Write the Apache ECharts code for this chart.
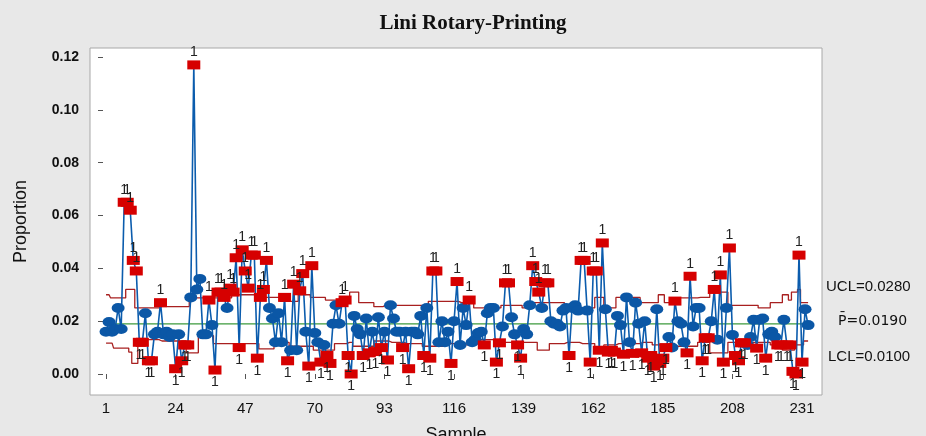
<!DOCTYPE html>
<html>
<head>
<meta charset="utf-8">
<script src="https://cdn.jsdelivr.net/npm/echarts@6/dist/echarts.min.js"></script>
<style>
html, body { margin: 0; padding: 0; background: #e8e8e8; }
#chart { width: 926px; height: 436px; }
</style>
</head>
<body>
<div id="chart"></div>
<script>
// proportion per sample, samples 1..233
var proportion = [
	0.016, 0.0197, 0.016, 0.017, 0.025, 0.017, 0.065, 0.065, 0.062, 0.043,
	0.039, 0.012, 0.012, 0.023, 0.005, 0.005, 0.015, 0.016, 0.027, 0.015,
	0.016, 0.014, 0.015, 0.002, 0.015, 0.005, 0.011, 0.011, 0.029, 0.117,
	0.032, 0.036, 0.015, 0.015, 0.028, 0.0185, 0.0015, 0.031, 0.031, 0.029,
	0.025, 0.0325, 0.031, 0.044, 0.010, 0.047, 0.039, 0.0325, 0.045, 0.045,
	0.006, 0.029, 0.032, 0.043, 0.025, 0.021, 0.012, 0.023, 0.012, 0.029,
	0.005, 0.009, 0.034, 0.009, 0.0315, 0.038, 0.016, 0.003, 0.041, 0.0155,
	0.012, 0.0045, 0.011, 0.007, 0.004, 0.019, 0.026, 0.019, 0.027, 0.028,
	0.007, 0.000, 0.022, 0.017, 0.015, 0.007, 0.021, 0.008, 0.016, 0.0085,
	0.0215, 0.010, 0.016, 0.0053, 0.026, 0.021, 0.016, 0.016, 0.010, 0.016,
	0.002, 0.016, 0.016, 0.015, 0.022, 0.007, 0.025, 0.006, 0.039, 0.039,
	0.012, 0.020, 0.012, 0.016, 0.004, 0.020, 0.035, 0.011, 0.025, 0.0185,
	0.028, 0.012, 0.013, 0.0155, 0.016, 0.011, 0.023, 0.025, 0.025, 0.0045,
	0.0118, 0.018, 0.0345, 0.0345, 0.0215, 0.015, 0.011, 0.006, 0.017, 0.015,
	0.026, 0.041, 0.035, 0.031, 0.025, 0.0345, 0.0345, 0.020, 0.019, 0.019,
	0.018, 0.024, 0.025, 0.007, 0.025, 0.026, 0.024, 0.043, 0.043, 0.024,
	0.0045, 0.039, 0.039, 0.009, 0.0496, 0.0245, 0.0083, 0.009, 0.0083, 0.022,
	0.0185, 0.0075, 0.029, 0.012, 0.0078, 0.027, 0.019, 0.008, 0.020, 0.006,
	0.007, 0.003, 0.0245, 0.004, 0.006, 0.010, 0.014, 0.010, 0.0276, 0.020,
	0.019, 0.012, 0.008, 0.037, 0.018, 0.025, 0.025, 0.005, 0.0137, 0.0137,
	0.020, 0.032, 0.013, 0.0375, 0.0045, 0.025, 0.0477, 0.0148, 0.007, 0.005,
	0.0118, 0.0118, 0.011, 0.014, 0.0205, 0.0098, 0.0205, 0.021, 0.006, 0.015,
	0.016, 0.014, 0.011, 0.011, 0.0205, 0.011, 0.011, 0.001, 0.000, 0.045,
	0.0045, 0.0245, 0.0185
];

// samples flagged by test 1 (drawn as red squares)
var flagged = [7, 8, 9, 10, 11, 12, 13, 15, 16, 19, 24, 26, 27, 28, 30, 35, 37, 38, 39, 40,
	42, 43, 44, 45, 46, 47, 48, 49, 50, 51, 52, 53, 54, 60, 61, 63, 65, 66, 68, 69,
	72, 74, 75, 79, 80, 81, 82, 86, 88, 90, 92, 94, 99, 101, 106, 108, 109, 110, 115, 117,
	121, 126, 130, 131, 133, 134, 137, 138, 142, 143, 144, 146, 147, 154, 158, 159, 161, 162, 163, 164,
	165, 167, 168, 169, 172, 175, 178, 180, 181, 182, 184, 185, 186, 189, 193, 194, 198, 199, 200, 202,
	204, 205, 207, 209, 210, 211, 212, 216, 219, 223, 224, 226, 227, 228, 229, 230, 231];

// control limits change with the sample size: [first sample, value]
var uclSteps = [[1, 0.030], [3, 0.0288], [8, 0.032], [11, 0.025], [19, 0.0255], [29, 0.0288],
	[43, 0.030], [53, 0.029], [59, 0.0275], [65, 0.030], [69, 0.029], [74, 0.028], [79, 0.027],
	[82, 0.031], [85, 0.027], [90, 0.0255], [93, 0.026], [108, 0.0275], [118, 0.027], [123, 0.025],
	[132, 0.026], [139, 0.025], [142, 0.027], [153, 0.026], [158, 0.025], [163, 0.029], [166, 0.025],
	[170, 0.029], [178, 0.027], [184, 0.030], [186, 0.027], [190, 0.0288], [197, 0.029], [201, 0.033],
	[204, 0.031], [207, 0.026], [217, 0.025], [221, 0.027], [225, 0.030], [227, 0.028], [228, 0.031],
	[230, 0.032], [231, 0.027]];
var lclSteps = [[1, 0.0117], [4, 0.0098], [9, 0.0083], [10, 0.004], [12, 0.013], [19, 0.0125],
	[28, 0.008], [32, 0.0145], [37, 0.0115], [52, 0.0095], [57, 0.012], [62, 0.0105], [70, 0.009],
	[77, 0.0115], [81, 0.012], [83, 0.0105], [90, 0.0125], [95, 0.012], [100, 0.0115], [106, 0.0105],
	[113, 0.0115], [118, 0.011], [123, 0.013], [132, 0.012], [144, 0.009], [148, 0.0115], [153, 0.012],
	[158, 0.0115], [163, 0.010], [166, 0.011], [170, 0.0115], [178, 0.012], [182, 0.011], [186, 0.0095],
	[190, 0.0105], [197, 0.012], [201, 0.008], [207, 0.012], [221, 0.011], [225, 0.009], [229, 0.011],
	[232, 0.0125]];

var centerLine = 0.019;
var xTicks = [1, 24, 47, 70, 93, 116, 139, 162, 185, 208, 231];
var yTicks = [0, 0.02, 0.04, 0.06, 0.08, 0.10, 0.12];
var limitLabels = ['UCL=0.0280', 'P\u0304=0.0190', 'LCL=0.0100'];

function expandSteps(steps, n){
	var out = [];
	var k = 0;
	for(var s=1; s<=n; s++){
		while(k+1 < steps.length && steps[k+1][0] <= s) k++;
		out.push([s, steps[k][1]]);
	}
	return out;
}

var linePts = [], okPts = [], badPts = [];
for(var i=0; i<proportion.length; i++){
	var s = i+1;
	linePts.push([s, proportion[i]]);
	if(flagged.indexOf(s) >= 0){
		badPts.push({
			value: [s, proportion[i]],
			label: { position: proportion[i] > centerLine ? 'top' : 'bottom' }
		});
	}else{
		okPts.push([s, proportion[i]]);
	}
}
var n = proportion.length;

var chart = echarts.init(document.getElementById('chart'));

var options = {
	backgroundColor: '#e8e8e8',
	animation: false,
	title: {
		text: 'Lini Rotary-Printing',
		left: 468,
		textAlign: 'center',
		top: 8,
		textStyle: { fontFamily: 'Liberation Serif', fontWeight: 'bold', fontSize: 21, color: '#111' }
	},
	grid: {
		left: 90, right: 104, top: 48, bottom: 41,
		containLabel: false, outerBoundsMode: 'none',
		show: true, backgroundColor: '#ffffff', borderColor: '#a8a8a8', borderWidth: 1
	},
	xAxis: {
		type: 'value',
		min: -4.3, max: 237.6,
		name: 'Sample', nameLocation: 'middle', nameGap: 31,
		nameTextStyle: { fontFamily: 'Liberation Sans', fontSize: 18, color: '#111' },
		axisLine: { show: false },
		axisTick: { show: true, customValues: xTicks, length: 5, lineStyle: { color: '#555' } },
		axisLabel: { customValues: xTicks, fontFamily: 'Liberation Sans', fontSize: 15, color: '#111', margin: 6 },
		splitLine: { show: false }
	},
	yAxis: {
		type: 'value',
		min: -0.00795, max: 0.1234,
		name: 'Proportion', nameLocation: 'middle', nameGap: 60, nameRotate: 90,
		nameTextStyle: { fontFamily: 'Liberation Sans', fontSize: 18, color: '#111' },
		axisLine: { show: false },
		axisTick: { show: true, customValues: yTicks, length: 5, lineStyle: { color: '#555' } },
		axisLabel: {
			customValues: yTicks, fontFamily: 'Liberation Sans', fontWeight: 'bold', fontSize: 14, color: '#111', margin: 11,
			formatter: function(v){ return v.toFixed(2); }
		},
		splitLine: { show: false }
	},
	series: [
		{
			name: 'UCL', type: 'line', step: 'middle', data: expandSteps(uclSteps, n),
			showSymbol: false, lineStyle: { color: '#a82020', width: 1.3 }, z: 1
		},
		{
			name: 'LCL', type: 'line', step: 'middle', data: expandSteps(lclSteps, n),
			showSymbol: false, lineStyle: { color: '#a82020', width: 1.3 }, z: 1
		},
		{
			name: 'Center', type: 'line', data: [[1, centerLine], [n, centerLine]],
			showSymbol: false, lineStyle: { color: '#3c9a3c', width: 1.3 }, z: 1
		},
		{
			name: 'Proportion', type: 'line', data: linePts,
			showSymbol: false, lineStyle: { color: '#0b5cad', width: 1.6 }, z: 2
		},
		{
			name: 'In control', type: 'scatter', data: okPts,
			symbol: 'circle', symbolSize: [13, 10],
			itemStyle: { color: '#0b57a6', opacity: 1 }, z: 3
		},
		{
			name: 'Test 1', type: 'scatter', data: badPts,
			symbol: 'rect', symbolSize: [13, 9],
			itemStyle: { color: '#d60000', opacity: 1 },
			label: { show: true, formatter: '1', distance: 1, fontFamily: 'Liberation Sans', fontSize: 14, color: '#222' },
			labelLayout: { hideOverlap: false },
			z: 4
		}
	],
	graphic: [
		{ type: 'text', left: 826, top: 279, style: { text: limitLabels[0], font: '15px Liberation Sans', fill: '#111' } },
		{ type: 'text', left: 838, top: 314, style: { text: limitLabels[1], font: '14px DejaVu Sans', fill: '#111' } },
		{ type: 'text', left: 828, top: 349, style: { text: limitLabels[2], font: '15px Liberation Sans', fill: '#111' } }
	]
};

chart.setOption(options);
</script>
</body>
</html>
